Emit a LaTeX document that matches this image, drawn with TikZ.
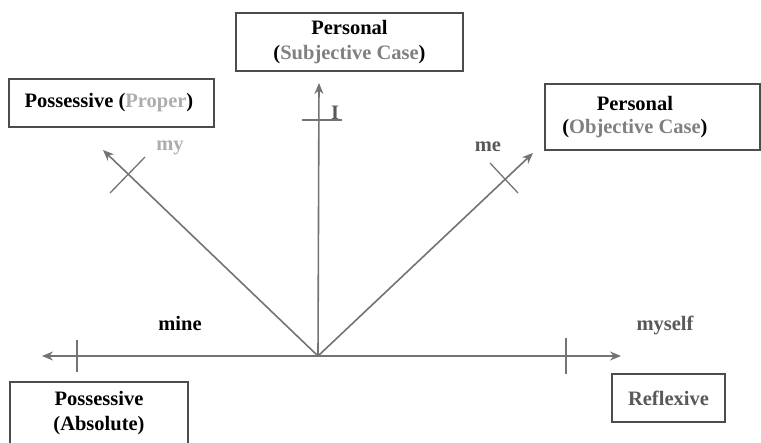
\documentclass[tikz,border=0pt]{standalone}
\usepackage{fontspec}
\setmainfont{Liberation Serif}
\usetikzlibrary{arrows.meta}

\definecolor{axisgray}{gray}{0.45}
\definecolor{boxgray}{gray}{0.30}
\definecolor{palegray}{gray}{0.68}
\definecolor{midgray}{gray}{0.50}
\definecolor{darkgray}{gray}{0.35}

\tikzset{
	box/.style={rectangle, draw=boxgray, line width=1.6pt, align=center, inner sep=0pt,
		font=\fontsize{20.5}{25}\selectfont\bfseries},
	lbl/.style={align=center, inner sep=0pt, font=\fontsize{20.5}{25}\selectfont\bfseries},
	axis/.style={draw=axisgray, line width=1.6pt, -{Stealth[length=11pt, width=9pt]}},
	tick/.style={draw=axisgray, line width=1.3pt}
}

\begin{document}
\begin{tikzpicture}[x=1pt, y=-1pt]

\useasboundingbox (0, 0) rectangle (761, 443);

\node(subj) [box, minimum width=227pt, minimum height=58pt] at (349.5, 42) {
	Personal\\
	(\textcolor{midgray}{Subjective Case})
};

\node(proper) [box, minimum width=205pt, minimum height=48pt] at (111.5, 103) {
	Possessive (\textcolor{palegray}{Proper})
};

\node(obj) [box, minimum width=215pt, minimum height=66pt] at (652.5, 117) {
	\begin{tabular}{@{}c@{\hspace{30pt}}}
	Personal\\[-2pt]
	(\textcolor{midgray}{Objective Case})
	\end{tabular}
};

\node(absol) [box, minimum width=178pt, minimum height=63pt] at (99, 413.5) {
	Possessive\\
	(Absolute)
};

\node(refl) [box, minimum width=113pt, minimum height=48pt, text=darkgray] at (668.5, 398) {Reflexive};

\coordinate(o) at (318, 356);
\coordinate(w) at (42, 356);
\coordinate(e) at (621, 356);
\coordinate(n) at (319, 83);
\coordinate(nw) at (103, 150);
\coordinate(ne) at (533, 153);

\draw [axis] (o) -- (w);
\draw [axis] (o) -- (e);
\draw [axis] (o) -- (n);
\draw [axis] (o) -- (nw);
\draw [axis] (o) -- (ne);

\draw [tick] (77, 340) -- (77, 372);
\draw [tick] (566, 338) -- (566, 374);
\draw [tick] (302, 120) -- (342, 120);
\draw [tick] (110, 193) -- (145, 157);
\draw [tick] (490, 163) -- (518, 193);

\node(my) [lbl, text=palegray] at (170, 148) {my};
\node(me) [lbl, text=darkgray] at (488, 147) {me};
\node(i) [lbl, text=darkgray] at (335, 113) {I};
\node(mine) [lbl] at (180, 323) {mine};
\node(myself) [lbl, text=darkgray] at (665, 325) {myself};

\end{tikzpicture}
\end{document}
